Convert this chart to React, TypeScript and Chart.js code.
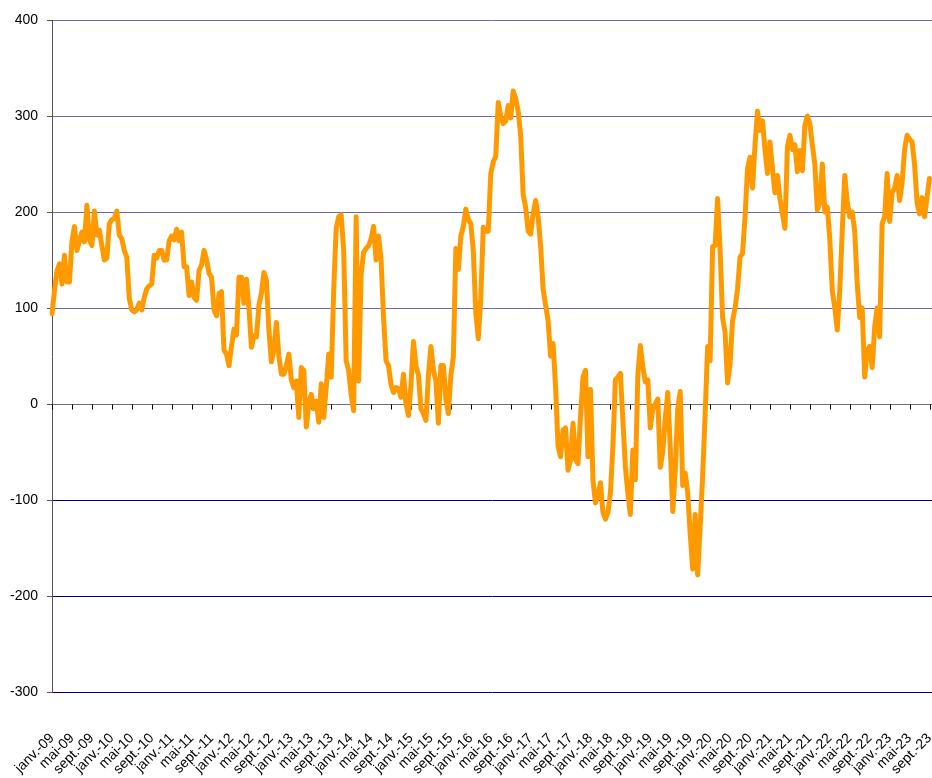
import { useEffect, useRef } from 'react';
import { Chart, registerables } from 'chart.js';

Chart.register(...registerables);

const tickLabels = [
  'janv.-09', 'mai-09', 'sept.-09',
  'janv.-10', 'mai-10', 'sept.-10',
  'janv.-11', 'mai-11', 'sept.-11',
  'janv.-12', 'mai-12', 'sept.-12',
  'janv.-13', 'mai-13', 'sept.-13',
  'janv.-14', 'mai-14', 'sept.-14',
  'janv.-15', 'mai-15', 'sept.-15',
  'janv.-16', 'mai-16', 'sept.-16',
  'janv.-17', 'mai-17', 'sept.-17',
  'janv.-18', 'mai-18', 'sept.-18',
  'janv.-19', 'mai-19', 'sept.-19',
  'janv.-20', 'mai-20', 'sept.-20',
  'janv.-21', 'mai-21', 'sept.-21',
  'janv.-22', 'mai-22', 'sept.-22',
  'janv.-23', 'mai-23', 'sept.-23',
];

// Half-month observations, one row per year
const values2009 = [94, 118, 139, 146, 125, 155, 127, 127, 169, 185, 160, 170, 179, 169, 207, 171, 165, 201, 176, 181, 165, 150, 152, 188];
const values2010 = [192, 193, 201, 176, 172, 160, 153, 110, 98, 96, 98, 105, 98, 111, 120, 123, 125, 155, 152, 160, 160, 150, 150, 170];
const values2011 = [175, 171, 182, 170, 179, 143, 143, 113, 127, 111, 108, 139, 145, 160, 150, 136, 132, 98, 92, 115, 117, 56, 52, 40];
const values2012 = [60, 78, 72, 132, 132, 105, 130, 100, 59, 71, 70, 103, 115, 137, 129, 77, 44, 56, 85, 50, 31, 31, 40, 52];
const values2013 = [25, 17, 24, -14, 38, 35, -24, 0, 10, -5, 3, -19, 21, -14, 17, 52, 28, 118, 183, 195, 197, 160, 45, 35];
const values2014 = [10, -7, 195, 24, 135, 158, 162, 165, 172, 185, 150, 175, 150, 90, 45, 40, 20, 12, 17, 16, 7, 31, 0, -12];
const values2015 = [20, 65, 40, 30, -5, -10, -17, 30, 60, 35, 24, -20, 40, 40, 5, -10, 30, 49, 162, 140, 175, 185, 203, 192];
const values2016 = [188, 160, 95, 68, 110, 184, 180, 180, 240, 252, 258, 314, 300, 292, 295, 311, 298, 326, 318, 305, 280, 218, 205, 180];
const values2017 = [177, 198, 212, 195, 165, 120, 103, 87, 50, 63, 18, -44, -55, -27, -25, -69, -58, -20, -58, -62, -13, 28, 35, -55];
const values2018 = [15, -79, -103, -96, -82, -113, -120, -113, -93, -44, 25, 28, 32, -17, -65, -93, -115, -48, -79, 30, 61, 39, 23, 25];
const values2019 = [-25, -5, 0, 5, -66, -50, -15, 12, -45, -112, -70, -5, 13, -85, -72, -92, -135, -172, -115, -178, -128, -75, -10, 60];
const values2020 = [45, 164, 165, 214, 160, 90, 75, 22, 42, 87, 100, 120, 153, 157, 195, 245, 257, 225, 270, 305, 285, 295, 265, 240];
const values2021 = [273, 245, 220, 238, 214, 198, 183, 268, 280, 265, 270, 242, 264, 243, 290, 300, 292, 270, 250, 202, 210, 250, 200, 205];
const values2022 = [172, 118, 100, 77, 118, 181, 238, 210, 195, 200, 180, 125, 90, 100, 28, 55, 60, 38, 80, 100, 70, 188, 195, 240];
const values2023 = [190, 220, 225, 238, 212, 230, 265, 280, 276, 273, 250, 210, 198, 215, 195, 215, 235, null];

const seriesValues: (number | null)[] = [
  ...values2009, ...values2010, ...values2011, ...values2012, ...values2013,
  ...values2014, ...values2015, ...values2016, ...values2017, ...values2018,
  ...values2019, ...values2020, ...values2021, ...values2022, ...values2023,
];

const firstYear = 2009;
const categories = seriesValues.map((_, i) => {
  const year = firstYear + Math.floor(i / 24);
  const month = Math.floor((i % 24) / 2) + 1;
  return `${String(month).padStart(2, '0')}/${year} (${(i % 2) + 1})`;
});

const Y_MIN = -300;
const Y_MAX = 400;
const Y_STEP = 100;
const PERIODS_PER_TICK = 8;

export default function App() {
  const ref = useRef<HTMLCanvasElement>(null);

  useEffect(() => {
    if (!ref.current) return;
    const zeroTicks = {
      id: 'zeroTicks',
      beforeDatasetsDraw(chart: any) {
        const xs = chart.scales.x;
        const ys = chart.scales.y;
        const y0 = Math.round(ys.getPixelForValue(0)) + 0.5;
        const ctx = chart.ctx;
        ctx.save();
        ctx.strokeStyle = '#000000';
        ctx.lineWidth = 1;
        ctx.beginPath();
        for (let k = 0; k < tickLabels.length; k++) {
          const px = Math.round(xs.getPixelForValue(k * PERIODS_PER_TICK)) + 0.5;
          ctx.moveTo(px, y0);
          ctx.lineTo(px, y0 + 5);
        }
        ctx.stroke();
        ctx.restore();
      },
    };

    const chart = new Chart(ref.current, {
      type: 'line',
      data: {
        labels: categories,
        datasets: [
          {
            data: seriesValues,
            borderColor: '#FF9900',
            backgroundColor: '#FF9900',
            borderWidth: 5,
            pointRadius: 0,
            tension: 0,
            fill: false,
            borderJoinStyle: 'round',
            borderCapStyle: 'round',
          },
        ],
      },
      options: {
        responsive: false,
        maintainAspectRatio: false,
        animation: false,
        layout: { padding: { top: 20, right: 0, bottom: 0, left: 0 } },
        plugins: {
          legend: { display: false },
          tooltip: { enabled: false },
        },
        scales: {
          x: {
            type: 'category',
            offset: false,
            grid: { display: false, drawTicks: false },
            border: { display: false },
            ticks: {
              autoSkip: false,
              minRotation: 45,
              maxRotation: 45,
              padding: 38,
              color: '#000000',
              font: { family: 'Liberation Sans', size: 14 },
              callback: (_v: any, i: number) =>
                i % PERIODS_PER_TICK === 0 ? tickLabels[i / PERIODS_PER_TICK] ?? '' : '',
            },
            afterFit: (s: any) => {
              s.height = 86;
              s.paddingLeft = 0;
              s.paddingRight = 0;
            },
          },
          y: {
            min: Y_MIN,
            max: Y_MAX,
            ticks: {
              stepSize: Y_STEP,
              padding: 9,
              color: '#000000',
              font: { family: 'Liberation Sans', size: 14 },
            },
            grid: {
              color: (ctx: any) => {
                const v = ctx.tick ? ctx.tick.value : 1;
                if (v === 0) return '#707070';
                return v > 0 ? '#6a6ab4' : '#000080';
              },
              tickColor: '#555555',
              tickLength: 5,
              lineWidth: 1,
            },
            border: { display: true, color: '#555555', width: 1 },
            afterFit: (s: any) => {
              s.width = 52;
              s.paddingTop = 0;
              s.paddingBottom = 0;
            },
          },
        },
      },
      plugins: [zeroTicks],
    });
    return () => chart.destroy();
  }, []);

  return (
    <div style={{ position: 'fixed', left: 0, top: 0, width: 932, height: 778, background: '#ffffff' }}>
      <canvas ref={ref} width={932} height={778} style={{ display: 'block' }} />
    </div>
  );
}
